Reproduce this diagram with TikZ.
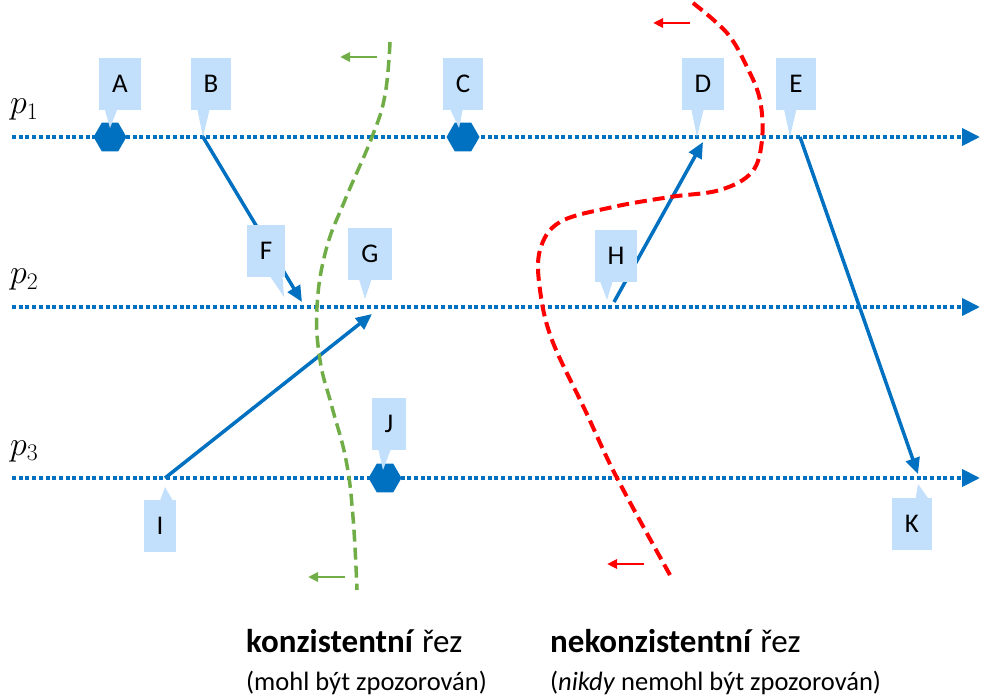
\RequirePackage{fix-cm}
\documentclass[tikz,border=0pt]{standalone}
\usepackage{fontspec}
\setmainfont{Carlito}
\usepackage{tikz}
\usetikzlibrary{arrows.meta, shapes.geometric, calc}
\definecolor{procblue}{RGB}{0,112,192}
\definecolor{callblue}{RGB}{194,224,252}
\definecolor{cutgreen}{RGB}{112,173,71}
\definecolor{cutred}{RGB}{255,0,0}

\begin{document}
\begin{tikzpicture}[x=1pt, y=-1pt,
    proc/.style={procblue, line width=4pt, dash pattern=on 4pt off 2.7pt, -{Triangle[length=18pt,width=17pt]}},
    msg/.style={procblue, line width=3.5pt, -{Triangle[length=16pt,width=14pt]}},
    event/.style={regular polygon, regular polygon sides=6, fill=procblue, minimum size=33pt, inner sep=0pt},
    callout/.style={fill=callblue, font=\fontsize{27}{31}\selectfont, inner xsep=13pt, inner ysep=0pt,
        minimum height=52pt, text height=17pt, text depth=0pt},
    cut/.style={line width=3.5pt, dash pattern=on 12pt off 6pt},
    cutarrow/.style={line width=2.5pt, -{Triangle[length=10pt,width=9pt]}},
    proclabel/.style={anchor=base west, inner sep=0pt, font=\fontsize{34}{40}\selectfont},
    caption/.style={anchor=base west, inner sep=0pt, font=\fontsize{33}{39}\selectfont},
    note/.style={anchor=base west, inner sep=0pt, font=\fontsize{26.5}{31}\selectfont}]
    \useasboundingbox (0,0) rectangle (996,700);

    % processes
    \node[proclabel] (p1) at (10,114) {$p_1$};
    \node[proclabel] (p2) at (10,284) {$p_2$};
    \node[proclabel] (p3) at (10,455) {$p_3$};
    \coordinate (p1s) at (12,137);  \coordinate (p1e) at (980,137);
    \coordinate (p2s) at (12,307);  \coordinate (p2e) at (980,307);
    \coordinate (p3s) at (12,478);  \coordinate (p3e) at (980,478);
    \draw[proc] (p1s) -- (p1e);
    \draw[proc] (p2s) -- (p2e);
    \draw[proc] (p3s) -- (p3e);

    % local events
    \node[event] (ea) at (110,137) {};
    \node[event] (ec) at (463,137) {};
    \node[event] (ej) at (385,478) {};

    % messages
    \coordinate (b) at (203,137);  \coordinate (f) at (302,302);
    \coordinate (i) at (165,478);  \coordinate (g) at (372,314);
    \coordinate (h) at (614,302);  \coordinate (d) at (703,142);
    \coordinate (e) at (800,137);  \coordinate (k) at (918,474);
    \draw[msg] (b) -- (f);
    \draw[msg] (i) -- (g);
    \draw[msg] (h) -- (d);
    \draw[msg] (e) -- (k);

    % consistent cut
    \draw[cut, cutgreen] plot[smooth, tension=0.7] coordinates {(390,42) (385,95) (372,137) (345,200) (326,250)
        (317,307) (320,360) (332,407) (346,460) (353,517) (357,590)};
    \draw[cutarrow, cutgreen] (377,57) -- (340,57);
    \draw[cutarrow, cutgreen] (345,577) -- (308,577);

    % inconsistent cut
    \draw[cut, cutred, line width=4pt] plot[smooth, tension=0.6] coordinates {(693,3) (727,33) (747,67) (760,100)
        (762,140) (752,172) (720,190) (670,197) (613,207) (560,222) (540,250) (540,290) (552,340) (585,410)
        (617,478) (670,575)};
    \draw[cutarrow, cutred] (690,23) -- (653,23);
    \draw[cutarrow, cutred] (644,564) -- (607,564);

    % callouts
    \node[callout] (A) at (120,84) {A};
    \node[callout] (B) at (211,84) {B};
    \node[callout] (C) at (463,84) {C};
    \node[callout] (D) at (703,84) {D};
    \node[callout] (E) at (796,84) {E};
    \node[callout] (F) at (266,251) {F};
    \node[callout] (G) at (370,254) {G};
    \node[callout] (H) at (616,256) {H};
    \node[callout] (I) at (160,526) {I};
    \node[callout] (J) at (389,424) {J};
    \node[callout] (K) at (912,524) {K};
    \foreach \n/\c/\s/\tx/\ty in {A/south west/12/110/128, B/south west/13/203/137, C/south west/14/459/128,
        D/south west/16/697/137, E/south west/14/790/137, F/south west/30/284/297, G/south west/17/365/299,
        H/south west/12/607/300, I/north west/23/165/487, J/south west/13/383/470, K/north west/30/918/484}
        \fill[callblue] ([xshift={(\s-6)*1pt}]\n.\c) -- (\tx,\ty) -- ([xshift={(\s+6)*1pt}]\n.\c) -- cycle;

    % captions
    \node[caption] (cons) at (246,652) {\textbf{konzistentní} řez};
    \node[note] (consnote) at (246,690) {(mohl být zpozorován)};
    \node[caption] (incons) at (550,652) {\textbf{nekonzistentní} řez};
    \node[note] (inconsnote) at (550,690) {(\textit{nikdy} nemohl být zpozorován)};
\end{tikzpicture}
\end{document}
